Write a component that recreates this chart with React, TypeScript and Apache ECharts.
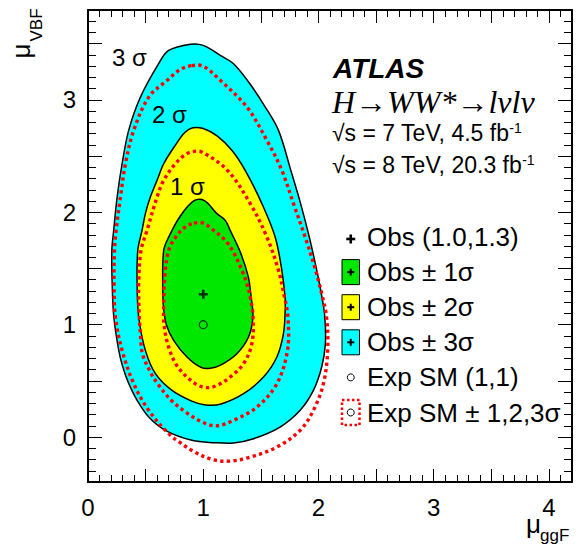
import React, { useEffect, useRef } from 'react';
import * as echarts from 'echarts';

type P = [number, number];

// Observed contours (mu_ggF, mu_VBF)
const obs3Sigma: P[] = [
  [0.89, 3.495], [1.0, 3.485], [1.148, 3.396], [1.263, 3.322], [1.4, 3.15], [1.53, 2.95],
  [1.653, 2.729], [1.76, 2.373], [1.845, 2.077], [1.92, 1.78], [1.985, 1.484], [2.03, 1.246],
  [2.055, 1.068], [2.06, 0.831], [2.028, 0.623], [1.956, 0.415], [1.841, 0.238], [1.667, 0.089],
  [1.436, -0.015], [1.263, -0.053], [1.1, -0.05], [0.902, -0.029], [0.671, 0.06], [0.527, 0.178],
  [0.426, 0.327], [0.354, 0.475], [0.302, 0.623], [0.267, 0.771], [0.224, 1.068], [0.21, 1.365],
  [0.207, 1.661], [0.223, 1.839], [0.253, 2.135], [0.296, 2.432], [0.353, 2.729], [0.455, 3.025],
  [0.613, 3.322], [0.7, 3.44],
];
const obs2Sigma: P[] = [
  [0.91, 2.752], [1.0, 2.745], [1.12, 2.68], [1.25, 2.55], [1.364, 2.373], [1.509, 2.077],
  [1.624, 1.78], [1.682, 1.484], [1.71, 1.246], [1.711, 1.127], [1.696, 0.92], [1.639, 0.712],
  [1.523, 0.534], [1.35, 0.386], [1.148, 0.292], [1.02, 0.285], [0.9, 0.32], [0.729, 0.415],
  [0.585, 0.564], [0.498, 0.771], [0.44, 1.068], [0.426, 1.365], [0.432, 1.661], [0.469, 1.839],
  [0.498, 1.988], [0.541, 2.135], [0.599, 2.284], [0.657, 2.432], [0.76, 2.6], [0.84, 2.71],
];
const obs1Sigma: P[] = [
  [0.92, 2.103], [1.01, 2.104], [1.119, 1.988], [1.191, 1.928], [1.234, 1.839], [1.32, 1.65],
  [1.39, 1.43], [1.415, 1.25], [1.431, 1.068], [1.393, 0.89], [1.292, 0.742], [1.15, 0.64],
  [1.06, 0.612], [0.98, 0.62], [0.859, 0.712], [0.743, 0.86], [0.68, 1.0], [0.655, 1.157],
  [0.648, 1.365], [0.657, 1.661], [0.7, 1.779], [0.8, 1.965],
];
// Expected SM contours
const exp3Sigma: P[] = [
  [0.9, 3.305], [1.0, 3.3], [1.148, 3.174], [1.379, 2.936], [1.552, 2.64], [1.682, 2.373],
  [1.783, 2.077], [1.884, 1.78], [1.975, 1.484], [2.035, 1.246], [2.07, 1.068], [2.08, 0.771],
  [2.043, 0.475], [1.956, 0.238], [1.841, 0.06], [1.639, -0.089], [1.408, -0.178], [1.234, -0.214],
  [1.08, -0.2], [0.92, -0.13], [0.8, -0.05], [0.7, 0.03], [0.527, 0.238], [0.397, 0.475],
  [0.296, 0.771], [0.238, 1.068], [0.226, 1.365], [0.23, 1.661], [0.244, 1.839], [0.282, 2.135],
  [0.325, 2.432], [0.397, 2.729], [0.527, 3.025], [0.686, 3.174], [0.8, 3.27],
];
const exp2Sigma: P[] = [
  [0.91, 2.54], [0.99, 2.535], [1.21, 2.373], [1.408, 2.077], [1.552, 1.78], [1.653, 1.484],
  [1.705, 1.246], [1.735, 1.068], [1.731, 0.771], [1.639, 0.475], [1.466, 0.267], [1.263, 0.149],
  [1.12, 0.1], [1.0, 0.13], [0.85, 0.22], [0.72, 0.33], [0.6, 0.48], [0.52, 0.62], [0.47, 0.75],
  [0.455, 0.92], [0.445, 1.068], [0.44, 1.365], [0.46, 1.661], [0.512, 1.839], [0.599, 2.135],
  [0.657, 2.284], [0.758, 2.432], [0.84, 2.51],
];
const exp1Sigma: P[] = [
  [0.92, 1.903], [1.0, 1.903], [1.09, 1.839], [1.191, 1.75], [1.27, 1.63], [1.335, 1.484],
  [1.379, 1.365], [1.408, 1.246], [1.432, 1.068], [1.422, 0.831], [1.35, 0.653], [1.234, 0.534],
  [1.12, 0.46], [1.03, 0.44], [0.93, 0.475], [0.78, 0.623], [0.7, 0.8], [0.66, 1.0],
  [0.657, 1.157], [0.668, 1.454], [0.7, 1.66], [0.755, 1.77], [0.84, 1.865],
];

const bestFitObs: P[] = [[1.0, 1.27]];
const smExpected: P[] = [[1.0, 1.0]];

const legendLabels = ['Obs (1.0,1.3)', 'Obs ± 1σ', 'Obs ± 2σ', 'Obs ± 3σ', 'Exp SM (1,1)', 'Exp SM ± 1,2,3σ'];
const contourLabels = ['3 σ', '2 σ', '1 σ'];
const headerTitle = 'ATLAS';
const processText = 'H→WW*→lνlν';
const lumiLines = ['√s = 7 TeV, 4.5 fb', '√s = 8 TeV, 20.3 fb'];

const FONT = '"Liberation Sans", Arial, Helvetica, sans-serif';
const SERIF = '"Liberation Serif", "Times New Roman", serif';
const GREEN = '#00e800';
const YELLOW = '#ffff00';
const CYAN = '#00ffff';
const RED = '#ff0000';

const plusPath = 'path://M3.2,0H5.8V3.2H9V5.8H5.8V9H3.2V5.8H0V3.2H3.2Z';

function polygonSeries(name: string, pts: P[], style: any) {
  return {
    type: 'custom',
    name,
    xAxisIndex: 0,
    yAxisIndex: 0,
    data: pts,
    silent: true,
    clip: true,
    renderItem: (params: any, api: any) => {
      if (params.dataIndex !== 0) return null;
      const points = pts.map((p) => api.coord(p));
      return { type: 'polygon', shape: { points, smooth: 0.35 }, style };
    },
  };
}

const intLabel = (v: number) => (Math.abs(v - Math.round(v)) < 1e-6 ? String(Math.round(v)) : '');

function xAxisDef(position: string, major: boolean, labels: boolean) {
  return {
    type: 'value',
    min: 0,
    max: 4.2,
    interval: major ? 0.5 : 0.1,
    position,
    axisLine: { show: major, onZero: false, lineStyle: { color: '#000', width: 2 } },
    axisTick: { show: true, inside: true, length: major ? 13 : 7, lineStyle: { color: '#000', width: 1 } },
    axisLabel: labels
      ? { show: true, formatter: intLabel, fontSize: 24, color: '#000', fontFamily: FONT, margin: 13 }
      : { show: false },
    splitLine: { show: false },
    z: 20,
  };
}

function yAxisDef(position: string, major: boolean, labels: boolean) {
  const base: any = {
    type: 'value',
    min: -0.4,
    max: 3.8,
    position,
    axisLine: { show: major, onZero: false, lineStyle: { color: '#000', width: 2 } },
    axisTick: { show: true, inside: true, length: major ? 14 : 8, lineStyle: { color: '#000', width: 1 } },
    axisLabel: labels
      ? { show: true, formatter: intLabel, fontSize: 24, color: '#000', fontFamily: FONT, margin: 12 }
      : { show: false },
    splitLine: { show: false },
    z: 20,
  };
  if (major) base.splitNumber = 8;
  else base.interval = 0.1;
  return base;
}

function txt(x: number, y: number, text: string, extra: any = {}, rotation = 0) {
  return {
    type: 'text',
    x,
    y,
    rotation,
    z: 100,
    style: {
      text,
      fontSize: 24,
      fontFamily: FONT,
      fill: '#000',
      textAlign: 'left',
      textVerticalAlign: 'middle',
      ...extra,
    },
  };
}

function legendGraphics() {
  const els: any[] = [];
  const x0 = 342;
  const boxW = 17.5;
  const boxH = 25;
  const cx = x0 + boxW / 2;
  const fills = [null, GREEN, YELLOW, CYAN, null, null];
  legendLabels.forEach((label, i) => {
    const cy = 237 + i * 35.1;
    if (i === 0) {
      els.push({ type: 'rect', z: 100, shape: { x: cx - 4.5, y: cy + 2 - 1.3, width: 9, height: 2.6 }, style: { fill: '#000' } });
      els.push({ type: 'rect', z: 100, shape: { x: cx - 1.3, y: cy + 2 - 4.5, width: 2.6, height: 9 }, style: { fill: '#000' } });
    } else if (i <= 3) {
      els.push({
        type: 'rect',
        z: 100,
        shape: { x: x0, y: cy - boxH / 2, width: boxW, height: boxH },
        style: { fill: fills[i], stroke: '#000', lineWidth: 1 },
      });
      els.push({ type: 'rect', z: 101, shape: { x: cx - 3.5, y: cy - 1, width: 7, height: 2 }, style: { fill: '#000' } });
      els.push({ type: 'rect', z: 101, shape: { x: cx - 1, y: cy - 3.5, width: 2, height: 7 }, style: { fill: '#000' } });
    } else if (i === 4) {
      els.push({ type: 'circle', z: 100, shape: { cx, cy, r: 3.5 }, style: { fill: 'none', stroke: '#000', lineWidth: 1 } });
    } else {
      els.push({
        type: 'rect',
        z: 100,
        shape: { x: x0, y: cy - boxH / 2, width: boxW, height: boxH },
        style: { fill: 'none', stroke: RED, lineWidth: 2.5, lineDash: [2.5, 2.5] },
      });
      els.push({ type: 'circle', z: 101, shape: { cx, cy, r: 3.5 }, style: { fill: 'none', stroke: '#000', lineWidth: 1 } });
    }
    els.push(txt(367, cy, label, { fontSize: 26 }));
  });
  return els;
}

export default function App() {
  const ref = useRef<HTMLDivElement>(null);
  useEffect(() => {
    if (!ref.current) return;
    const chart = echarts.init(ref.current, undefined, { renderer: 'svg' });
    const dotted = { fill: 'none', stroke: RED, lineWidth: 3.4, lineDash: [3.3, 3.3] };
    const option: any = {
      animation: false,
      backgroundColor: '#fff',
      grid: { left: 88, right: 7, top: 10, bottom: 67, containLabel: false },
      xAxis: [
        xAxisDef('bottom', true, true),
        xAxisDef('bottom', false, false),
        xAxisDef('top', true, false),
        xAxisDef('top', false, false),
      ],
      yAxis: [
        yAxisDef('left', true, true),
        yAxisDef('left', false, false),
        yAxisDef('right', true, false),
        yAxisDef('right', false, false),
      ],
      series: [
        polygonSeries('Obs ±3σ', obs3Sigma, { fill: CYAN, stroke: '#000', lineWidth: 1.5 }),
        polygonSeries('Obs ±2σ', obs2Sigma, { fill: YELLOW, stroke: '#000', lineWidth: 1.5 }),
        polygonSeries('Obs ±1σ', obs1Sigma, { fill: GREEN, stroke: '#000', lineWidth: 1.5 }),
        polygonSeries('Exp 3σ', exp3Sigma, dotted),
        polygonSeries('Exp 2σ', exp2Sigma, dotted),
        polygonSeries('Exp 1σ', exp1Sigma, dotted),
        {
          type: 'scatter',
          name: 'Obs',
          xAxisIndex: 0,
          yAxisIndex: 0,
          data: bestFitObs,
          symbol: plusPath,
          symbolSize: 9,
          itemStyle: { color: '#000' },
          silent: true,
        },
        {
          type: 'scatter',
          name: 'Exp SM',
          xAxisIndex: 0,
          yAxisIndex: 0,
          data: smExpected,
          symbol: 'circle',
          symbolSize: 8,
          itemStyle: { color: 'rgba(0,0,0,0)', borderColor: '#000', borderWidth: 1.1 },
          silent: true,
        },
      ],
      graphic: [
        // axis titles
        txt(21, 51, 'μ', { fontSize: 26, textAlign: 'center' }, Math.PI / 2),
        txt(36, 25, 'VBF', { fontSize: 17, textAlign: 'center' }, Math.PI / 2),
        txt(526, 524, 'μ', { fontSize: 26 }),
        txt(540, 535, 'ggF', { fontSize: 17 }),
        // contour labels
        txt(112, 57, contourLabels[0]),
        txt(152, 114, contourLabels[1]),
        txt(170, 186, contourLabels[2]),
        // header
        txt(333, 68.5, headerTitle, { fontSize: 28, fontWeight: 'bold', fontStyle: 'italic' }),
        txt(332, 101.5, processText, { fontSize: 32, fontStyle: 'italic', fontFamily: SERIF }),
        ...lumiLines.map((line, i) => ({
          type: 'text',
          x: 332,
          y: 132.5 + i * 32,
          z: 100,
          style: {
            text: `{a|${line}}{b|-1}`,
            textAlign: 'left',
            textVerticalAlign: 'middle',
            rich: {
              a: { fontSize: 23, fontFamily: FONT, fill: '#000', lineHeight: 24, verticalAlign: 'middle' },
              b: { fontSize: 14, fontFamily: FONT, fill: '#000', lineHeight: 14, verticalAlign: 'top' },
            },
          },
        })),
        ...legendGraphics(),
      ],
    };
    chart.setOption(option);
    return () => chart.dispose();
  }, []);
  return <div ref={ref} style={{ position: 'absolute', left: 0, top: 0, width: 579, height: 549 }} />;
}
